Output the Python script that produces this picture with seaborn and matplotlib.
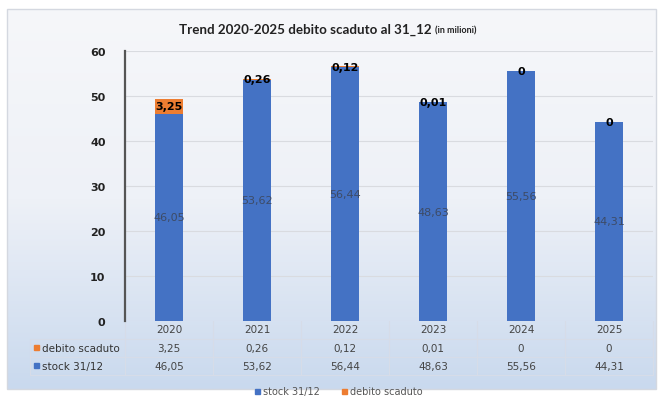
import matplotlib
matplotlib.use('Agg')

import numpy as np
import pandas as pd
import matplotlib.pyplot as plt
import seaborn as sns
from matplotlib.patches import Rectangle

# data
anni = ['2020', '2021', '2022', '2023', '2024', '2025']
stock = [46.05, 53.62, 56.44, 48.63, 55.56, 44.31]
debito = [3.25, 0.26, 0.12, 0.01, 0, 0]

BLU = '#4472C4'
ARANCIO = '#ED7D31'


def fmt(v):
    # italian style numbers: comma as decimal mark, plain 0
    if v == 0:
        return '0'
    return ('%.2f' % v).replace('.', ',')


df = pd.DataFrame({'anno': anni, 'stock': stock, 'debito': debito})

sns.set_style('white')
plt.rcParams['font.family'] = ['DejaVu Sans']

fig = plt.figure(figsize=(6.64, 4.06), dpi=100)

# background gradient inside a thin frame
bg = fig.add_axes([0, 0, 1, 1], zorder=-5)
bg.set_xlim(0, 664)
bg.set_ylim(406, 0)
bg.axis('off')
grad = np.linspace(0, 1, 256).reshape(-1, 1)
cmap = matplotlib.colors.LinearSegmentedColormap.from_list('g', ['#f6f7fa', '#eef1f7', '#c9d9ee'])
bg.imshow(grad, cmap=cmap, aspect='auto', extent=[7, 656, 390, 10])
bg.add_patch(Rectangle((7, 10), 649, 380, fill=False, edgecolor='#d4d8e0', lw=1))

ax = fig.add_axes([125 / 664, 1 - 322 / 406, 528 / 664, 270 / 406])
ax.patch.set_alpha(0)

sns.barplot(data=df, x='anno', y='stock', color=BLU, width=0.32, saturation=1, ax=ax,
            zorder=3, linewidth=0)
sns.barplot(data=df, x='anno', y='debito', bottom=df['stock'], color=ARANCIO, width=0.32,
            saturation=1, ax=ax, zorder=3, linewidth=0)

ax.bar_label(ax.containers[0], labels=[fmt(v) for v in stock], label_type='center',
             fontsize=8, color='#3d4b66')
ax.bar_label(ax.containers[1], labels=[fmt(v) for v in debito], label_type='center',
             fontsize=8, color='black', fontweight='bold')

ax.set_ylim(0, 60)
ax.set_xlim(-0.5, 5.5)
ax.set_yticks(range(0, 61, 10))
ax.yaxis.grid(True, color='#d9dbe0', lw=0.8, zorder=0)
ax.set_xticks([])
ax.set_xlabel('')
ax.set_ylabel('')
for s in ['top', 'right', 'bottom']:
    ax.spines[s].set_visible(False)
ax.spines['left'].set_color('#555555')
ax.spines['left'].set_linewidth(1.6)
ax.tick_params(axis='y', length=0, pad=14, labelsize=8)
for t in ax.get_yticklabels():
    t.set_fontweight('bold')
    t.set_color('#222222')

# data table below the axis
trans = matplotlib.transforms.blended_transform_factory(ax.transData, bg.transData)
righe = [('debito scaduto', debito, ARANCIO), ('stock 31/12', stock, BLU)]
ys_text = [330, 349, 367]
linee_col = '#d6dce8'
for i, a in enumerate(anni):
    ax.text(i, ys_text[0], a, transform=trans, ha='center', va='center', fontsize=7.5, color='#444444')
    for r, (nome, vals, col) in enumerate(righe):
        ax.text(i, ys_text[r + 1], fmt(vals[i]), transform=trans, ha='center', va='center',
                fontsize=7.5, color='#444444')
for k in range(7):
    ax.plot([k - 0.5, k - 0.5], [322, 376], transform=trans, color=linee_col, lw=0.8, clip_on=False)
for y in [340, 358, 376]:
    bg.plot([30, 653], [y, y], color=linee_col, lw=0.8)
bg.plot([30, 30], [340, 376], color=linee_col, lw=0.8)
for r, (nome, vals, col) in enumerate(righe):
    bg.add_patch(Rectangle((34, ys_text[r + 1] - 3), 5, 5, color=col))
    bg.text(42, ys_text[r + 1], nome, ha='left', va='center', fontsize=7.5, color='#333333')

# legend
bg.add_patch(Rectangle((255, 390), 5, 5, color=BLU))
bg.text(263, 392.5, 'stock 31/12', ha='left', va='center', fontsize=7, color='#555555')
bg.add_patch(Rectangle((342, 390), 5, 5, color=ARANCIO))
bg.text(350, 392.5, 'debito scaduto', ha='left', va='center', fontsize=7, color='#555555')

# title, the small "(in milioni)" placed right after the main part
tit = bg.text(179, 30, 'Trend 2020-2025 debito scaduto al 31_12', ha='left', va='center',
              fontsize=9.6, fontweight='bold', color='#222222', family=['Lato', 'DejaVu Sans'])
fig.canvas.draw()
bb = tit.get_window_extent()
bg.text(bb.x1 + 3, 31, '(in milioni)', ha='left', va='center', fontsize=6.5, fontweight='bold',
        color='#222222', family=['Lato', 'DejaVu Sans'])

fig.savefig('out.png', dpi=100)
